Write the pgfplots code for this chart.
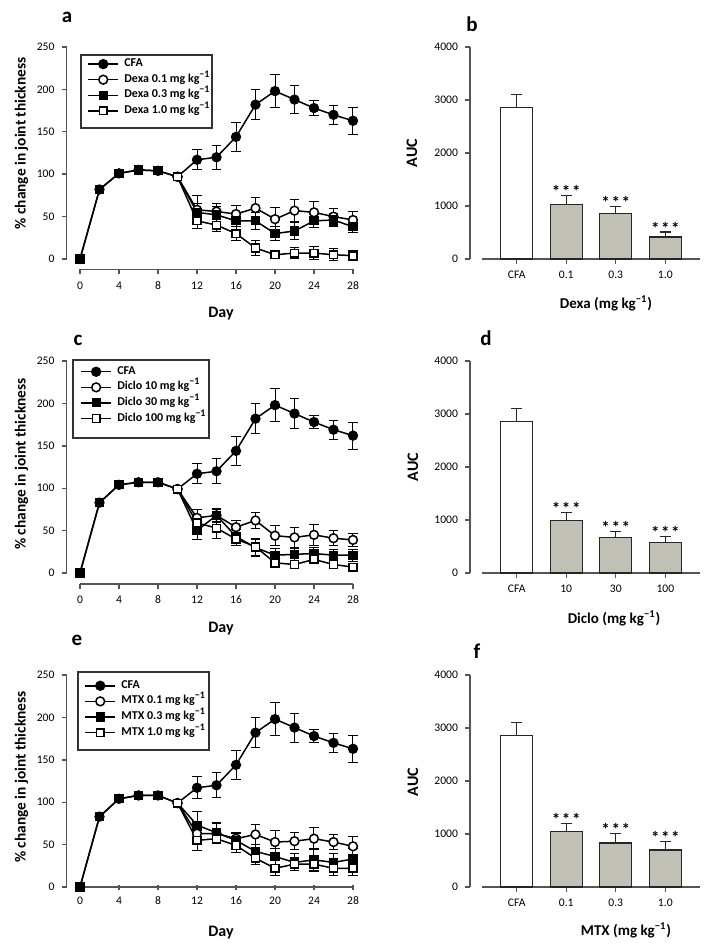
\documentclass[border=0pt]{standalone}
\usepackage{fontspec}
\setmainfont{Carlito}
\usepackage{pgfplots}
\pgfplotsset{compat=1.18}
\definecolor{barfill}{RGB}{192,192,180}
\definecolor{axgray}{RGB}{85,85,85}

\pgfplotsset{
  common/.style={
    scale only axis, clip=false,
    axis x line*=bottom, axis y line*=left,
    axis line style={axgray, line width=0.8pt},
    tick style={axgray, line width=0.7pt},
    major tick length=2.5pt,
    tick label style={font=\fontsize{5.8}{6}\selectfont},
    /pgf/number format/assume math mode=true,
    /pgf/number format/1000 sep={},
    scaled y ticks=false,
  },
  lineax/.style={common,
    width=136.5pt, height=106pt,
    xmin=0, xmax=28, ymin=0, ymax=250,
    xtick={0,4,...,28}, ytick={0,50,...,250},
    tick align=outside, axis y line shift=6.75pt,
    legend style={draw=none, fill=none, anchor=north west, inner sep=0pt,
      row sep=0pt, font=\bfseries\fontsize{6}{6}\selectfont,
      nodes={inner sep=0.2pt, text height=5pt, text depth=2.4pt},
      /tikz/every odd column/.append style={column sep=2.5pt}},
    legend cell align=left,
    legend image code/.code={\draw[mark repeat=2,mark phase=2,##1]
      plot coordinates {(0pt,0pt)(7.5pt,0pt)(15pt,0pt)};},
  },
  barax/.style={common,
    width=109pt, height=106pt,
    xmin=0.3, xmax=4.7, ymin=0, ymax=4000,
    xtick={1,2,3,4}, ytick={0,1000,...,4000},
    tick align=outside, axis y line shift=6pt,
  },
  eb/.style={error bars/.cd, y dir=both, y explicit,
    error bar style={line width=0.5pt, black},
    error mark options={rotate=90, mark size=2.3pt, line width=0.5pt, black}},
  ebp/.style={error bars/.cd, y dir=plus, y explicit,
    error bar style={line width=0.6pt, black!85},
    error mark options={rotate=90, mark size=2.8pt, line width=0.6pt, black!85}},
  cfa/.style={black, line width=0.75pt, mark=*, mark size=2.2pt, mark options={fill=black}},
  ocirc/.style={black, line width=0.75pt, mark=*, mark size=2.2pt, mark options={fill=white}},
  fsq/.style={black, line width=0.75pt, mark=square*, mark size=1.9pt, mark options={fill=black}},
  osq/.style={black, line width=0.75pt, mark=square*, mark size=1.9pt, mark options={fill=white}},
  wbar/.style={ybar, bar shift=0pt, bar width=16pt, draw=black!85, line width=0.7pt, fill=white},
  gbar/.style={ybar, bar shift=0pt, bar width=16pt, draw=black!85, line width=0.7pt, fill=barfill},
}
\newcommand{\lab}{\bfseries\fontsize{8}{9}\selectfont}
\newcommand{\ylab}{\bfseries\fontsize{7.7}{9}\selectfont}
\newcommand{\blab}{\bfseries\fontsize{7.5}{8}\selectfont}
\newcommand{\panel}{\bfseries\fontsize{10.5}{11}\selectfont}
\newcommand{\stars}{\bfseries\fontsize{8.5}{9}\selectfont}
\newcommand{\sig}{*\kern0.8pt*\kern0.8pt*}

\begin{document}
\begin{tikzpicture}
\path[use as bounding box] (0,0) rectangle (360.5pt,-473pt);

% ---------- a ----------
\begin{axis}[lineax, at={(40pt,-129.5pt)}, anchor=south west,
  axis x line shift=5.25pt,
  legend style={at={(axis description cs:0.026,0.958)}}]
\addplot[cfa, eb] coordinates {(0,0)+-(0,0) (2,82)+-(0,3) (4,101)+-(0,3) (6,105)+-(0,4) (8,104)+-(0,4) (10,97)+-(0,4)
  (12,117)+-(0,12) (14,120)+-(0,14) (16,144)+-(0,17) (18,182)+-(0,18) (20,198)+-(0,19) (22,188)+-(0,17) (24,178)+-(0,9) (26,170)+-(0,11) (28,163)+-(0,16)};
\addlegendentry{CFA}
\addplot[ocirc, eb] coordinates {(10,97)+-(0,4) (12,58)+-(0,17) (14,56)+-(0,9) (16,53)+-(0,10) (18,60)+-(0,12)
  (20,47)+-(0,14) (22,57)+-(0,13) (24,55)+-(0,13) (26,50)+-(0,10) (28,46)+-(0,10)};
\addlegendentry{Dexa 0.1 mg kg\textsuperscript{−1}}
\addplot[fsq, eb] coordinates {(0,0)+-(0,0) (2,82)+-(0,3) (4,101)+-(0,3) (6,105)+-(0,4) (8,104)+-(0,4) (10,97)+-(0,4)
  (12,55)+-(0,10) (14,52)+-(0,10) (16,45)+-(0,10) (18,45)+-(0,10) (20,30)+-(0,8) (22,33)+-(0,10) (24,45)+-(0,8) (26,46)+-(0,8) (28,38)+-(0,7)};
\addlegendentry{Dexa 0.3 mg kg\textsuperscript{−1}}
\addplot[osq, eb] coordinates {(10,97)+-(0,4) (12,45)+-(0,9) (14,40)+-(0,7) (16,30)+-(0,8) (18,13)+-(0,9)
  (20,5)+-(0,5) (22,7)+-(0,6) (24,7)+-(0,8) (26,5)+-(0,7) (28,4)+-(0,6)};
\addlegendentry{Dexa 1.0 mg kg\textsuperscript{−1}}
\end{axis}
\draw[line width=0.6pt, black!80] (40.5pt,-27.5pt) rectangle (106pt,-64pt);

% ---------- b ----------
\begin{axis}[barax, at={(241pt,-129.5pt)}, anchor=south west,
  xticklabels={CFA,0.1,0.3,1.0}]
\addplot[wbar, ebp] coordinates {(1,2860)+-(0,250)};
\addplot[gbar, ebp] coordinates {(2,1025)+-(0,175) (3,855)+-(0,130) (4,415)+-(0,95)};
\node[anchor=base, font=\stars] at (axis cs:2,1160) {\sig};
\node[anchor=base, font=\stars] at (axis cs:3,945) {\sig};
\node[anchor=base, font=\stars] at (axis cs:4,470) {\sig};
\end{axis}

% ---------- c ----------
\begin{axis}[lineax, at={(40pt,-286.5pt)}, anchor=south west,
  axis x line shift=5.5pt,
  legend style={at={(axis description cs:0.0,0.988)}}]
\addplot[cfa, eb] coordinates {(0,0)+-(0,0) (2,83)+-(0,3) (4,104)+-(0,4) (6,107)+-(0,4) (8,107)+-(0,4) (10,99)+-(0,3)
  (12,117)+-(0,12) (14,120)+-(0,15) (16,144)+-(0,17) (18,182)+-(0,18) (20,198)+-(0,19) (22,188)+-(0,18) (24,178)+-(0,8) (26,169)+-(0,11) (28,162)+-(0,16)};
\addlegendentry{CFA}
\addplot[ocirc, eb] coordinates {(10,99)+-(0,3) (12,65)+-(0,10) (14,68)+-(0,7) (16,54)+-(0,8) (18,62)+-(0,9)
  (20,44)+-(0,12) (22,42)+-(0,12) (24,45)+-(0,12) (26,41)+-(0,9) (28,39)+-(0,8)};
\addlegendentry{Diclo 10 mg kg\textsuperscript{−1}}
\addplot[fsq, eb] coordinates {(0,0)+-(0,0) (2,83)+-(0,3) (4,104)+-(0,4) (6,107)+-(0,4) (8,107)+-(0,4) (10,99)+-(0,3)
  (12,50)+-(0,10) (14,68)+-(0,8) (16,43)+-(0,8) (18,30)+-(0,10) (20,21)+-(0,8) (22,22)+-(0,7) (24,23)+-(0,7) (26,21)+-(0,7) (28,21)+-(0,7)};
\addlegendentry{Diclo 30 mg kg\textsuperscript{−1}}
\addplot[osq, eb] coordinates {(10,99)+-(0,3) (12,59)+-(0,8) (14,53)+-(0,12) (16,40)+-(0,7) (18,31)+-(0,10)
  (20,12)+-(0,5) (22,10)+-(0,4) (24,16)+-(0,4) (26,10)+-(0,4) (28,7)+-(0,3)};
\addlegendentry{Diclo 100 mg kg\textsuperscript{−1}}
\end{axis}
\draw[line width=0.6pt, black!80] (36.5pt,-180pt) rectangle (104.5pt,-219pt);

% ---------- d ----------
\begin{axis}[barax, at={(241pt,-286.5pt)}, anchor=south west,
  xticklabels={CFA,10,30,100}]
\addplot[wbar, ebp] coordinates {(1,2862)+-(0,245)};
\addplot[gbar, ebp] coordinates {(2,987)+-(0,150) (3,675)+-(0,106) (4,575)+-(0,112)};
\node[anchor=base, font=\stars] at (axis cs:2,1097) {\sig};
\node[anchor=base, font=\stars] at (axis cs:3,741) {\sig};
\node[anchor=base, font=\stars] at (axis cs:4,647) {\sig};
\end{axis}

% ---------- e ----------
\begin{axis}[lineax, at={(40pt,-443.5pt)}, anchor=south west,
  xtick align=center,
  legend style={at={(axis description cs:0.015,0.988)}}]
\addplot[cfa, eb] coordinates {(0,0)+-(0,0) (2,83)+-(0,3) (4,104)+-(0,4) (6,108)+-(0,4) (8,108)+-(0,4) (10,99)+-(0,3)
  (12,117)+-(0,13) (14,120)+-(0,15) (16,144)+-(0,17) (18,182)+-(0,18) (20,198)+-(0,19) (22,188)+-(0,17) (24,178)+-(0,8) (26,170)+-(0,11) (28,163)+-(0,16)};
\addlegendentry{CFA}
\addplot[ocirc, eb] coordinates {(10,99)+-(0,3) (12,63)+-(0,13) (14,63)+-(0,12) (16,57)+-(0,7) (18,62)+-(0,12)
  (20,53)+-(0,14) (22,54)+-(0,10) (24,57)+-(0,13) (26,53)+-(0,9) (28,48)+-(0,11)};
\addlegendentry{MTX 0.1 mg kg\textsuperscript{−1}}
\addplot[fsq, eb] coordinates {(0,0)+-(0,0) (2,83)+-(0,3) (4,104)+-(0,4) (6,108)+-(0,4) (8,108)+-(0,4) (10,99)+-(0,3)
  (12,73)+-(0,16) (14,64)+-(0,12) (16,55)+-(0,8) (18,42)+-(0,8) (20,36)+-(0,9) (22,29)+-(0,10) (24,32)+-(0,13) (26,29)+-(0,10) (28,33)+-(0,13)};
\addlegendentry{MTX 0.3 mg kg\textsuperscript{−1}}
\addplot[osq, eb] coordinates {(10,99)+-(0,3) (12,55)+-(0,12) (14,57)+-(0,5) (16,49)+-(0,8) (18,34)+-(0,8)
  (20,22)+-(0,9) (22,27)+-(0,8) (24,27)+-(0,9) (26,22)+-(0,9) (28,22)+-(0,8)};
\addlegendentry{MTX 1.0 mg kg\textsuperscript{−1}}
\end{axis}
\draw[line width=0.6pt, black!80] (39pt,-336pt) rectangle (104.5pt,-375pt);

% ---------- f ----------
\begin{axis}[barax, at={(241pt,-443.5pt)}, anchor=south west,
  xticklabels={CFA,0.1,0.3,1.0}]
\addplot[wbar, ebp] coordinates {(1,2853)+-(0,250)};
\addplot[gbar, ebp] coordinates {(2,1053)+-(0,151) (3,834)+-(0,169) (4,702)+-(0,151)};
\node[anchor=base, font=\stars] at (axis cs:2,1164) {\sig};
\node[anchor=base, font=\stars] at (axis cs:3,963) {\sig};
\node[anchor=base, font=\stars] at (axis cs:4,813) {\sig};
\end{axis}

% ---------- labels ----------
\node[font=\panel, anchor=base] at (33.5pt,-11.5pt) {a};
\node[font=\panel, anchor=base] at (236pt,-16pt) {b};
\node[font=\panel, anchor=base] at (39pt,-172.5pt) {c};
\node[font=\panel, anchor=base] at (243pt,-172.5pt) {d};
\node[font=\panel, anchor=base] at (38.5pt,-322.5pt) {e};
\node[font=\panel, anchor=base] at (238.5pt,-329pt) {f};

\node[font=\ylab, rotate=90] at (10.75pt,-71.75pt) {\% change in joint thickness};
\node[font=\ylab, rotate=90] at (10.75pt,-232pt) {\% change in joint thickness};
\node[font=\ylab, rotate=90] at (10.75pt,-388.5pt) {\% change in joint thickness};
\node[font=\lab] at (110.5pt,-157pt) {Day};
\node[font=\lab] at (110.5pt,-314.5pt) {Day};
\node[font=\lab] at (110.5pt,-466.5pt) {Day};

\node[font=\lab, rotate=90] at (206pt,-76.5pt) {AUC};
\node[font=\lab, rotate=90] at (206.5pt,-233.5pt) {AUC};
\node[font=\lab, rotate=90] at (206.5pt,-391pt) {AUC};
\node[font=\blab] at (303pt,-151.5pt) {Dexa (mg kg\textsuperscript{−1})};
\node[font=\blab] at (307pt,-309pt) {Diclo (mg kg\textsuperscript{−1})};
\node[font=\blab] at (313pt,-465pt) {MTX (mg kg\textsuperscript{−1})};
\end{tikzpicture}
\end{document}
